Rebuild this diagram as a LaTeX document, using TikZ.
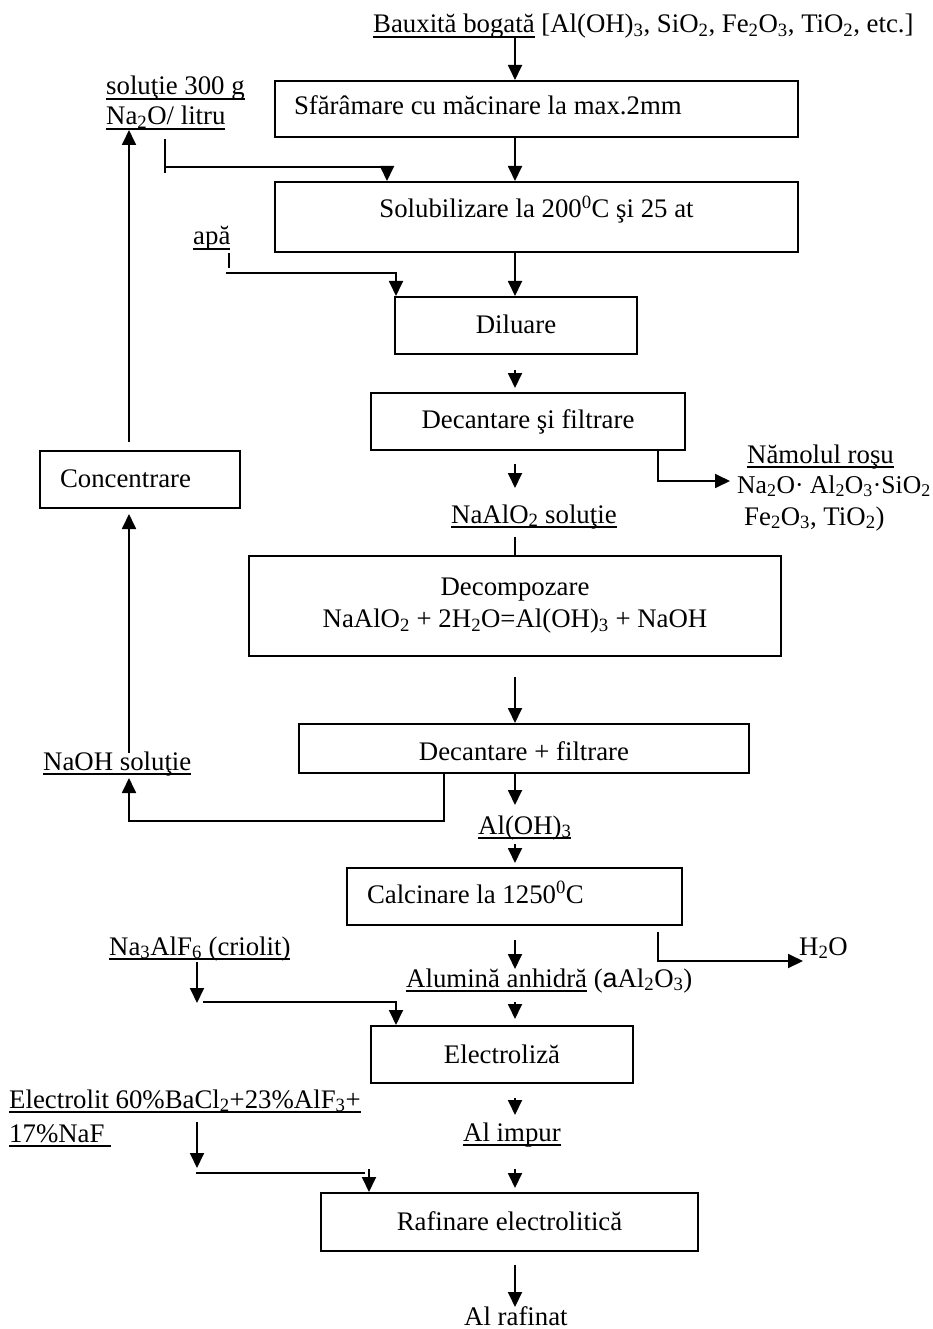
\documentclass[tikz,border=0pt]{standalone}
\usepackage{fontspec}
\setmainfont{Liberation Serif}
\newfontfamily\sansa{Liberation Sans}
\usetikzlibrary{arrows.meta}

% underline set just below the baseline, crossing the subscripts
\newsavebox\ulbox
\newcommand\ulx[1]{\sbox\ulbox{#1}\rlap{\rule[-4.6pt]{\wd\ulbox}{1.3pt}}\usebox\ulbox}
\newcommand\sub[1]{\textsubscript{#1}}

\tikzset{
  box/.style={draw, line width=2pt, inner sep=0pt, text depth=0pt},
  lbl/.style={inner sep=0pt, anchor=base west},
  ln/.style={line width=1.8pt},
  arr/.style={line width=1.8pt, -{Triangle[width=14pt,length=15pt]}},
}

\begin{document}
\begin{tikzpicture}[x=1pt, y=-1pt, font=\fontsize{26.8}{32}\selectfont]
\useasboundingbox (0,0) rectangle (932,1329);

% ---------- process boxes ----------
\node[box, minimum width=523pt, minimum height=56pt, text width=485pt, inner xsep=19pt, align=flush left, text height=12pt]
  (b1) at (536.5,109) {Sfărâmare cu măcinare la max.2mm};
\node[box, minimum width=523pt, minimum height=70pt, text height=2pt]
  (b2) at (536.5,217) {Solubilizare la 200\textsuperscript{0}C şi 25 at};
\node[box, minimum width=242pt, minimum height=57pt, text height=15pt]
  (b3) at (516,325.5) {Diluare};
\node[box, minimum width=314pt, minimum height=57pt, text height=13pt]
  (b4) at (528,421.5) {Decantare şi filtrare};
\node[box, minimum width=200pt, minimum height=57pt, text width=160pt, inner xsep=20pt, align=flush left, text height=15pt]
  (b5) at (140,479.5) {Concentrare};
\node[box, minimum width=532pt, minimum height=100pt, align=center, text depth=]
  (b6) at (515,606) {Decompozare\\NaAlO\sub{2} + 2H\sub{2}O=Al(OH)\sub{3} + NaOH};
\node[box, minimum width=450pt, minimum height=49pt, text height=23pt]
  (b7) at (524,748.5) {Decantare + filtrare};
\node[box, minimum width=335pt, minimum height=57pt, text width=295pt, inner xsep=20pt, align=flush left, text height=13pt]
  (b8) at (514.5,896.5) {Calcinare la 1250\textsuperscript{0}C};
\node[box, minimum width=262pt, minimum height=57pt, text height=17pt]
  (b9) at (502,1054.5) {Electroliză};
\node[box, minimum width=377pt, minimum height=58pt, text height=16pt]
  (b10) at (509.5,1222) {Rafinare electrolitică};

% ---------- stream labels ----------
\node[lbl] (feed) at (373,33) {\ulx{Bauxită bogată} [Al(OH)\sub{3}, SiO\sub{2}, Fe\sub{2}O\sub{3}, TiO\sub{2}, etc.]};
\node[lbl] (sola) at (106,95) {\ulx{soluţie 300 g}};
\node[lbl] (solb) at (106,125) {\ulx{Na\sub{2}O/ litru}};
\node[lbl] (apa) at (193,245) {\ulx{apă}};
\node[lbl] (nama) at (747,463) {\ulx{Nămolul roşu}};
\node[lbl, font=\fontsize{25.6}{32}\selectfont] (namb) at (737,493) {Na\sub{2}O· Al\sub{2}O\sub{3}·SiO\sub{2}};
\node[lbl] (namc) at (744,525) {Fe\sub{2}O\sub{3}, TiO\sub{2})};
\node[lbl] (alu) at (451,523) {\ulx{NaAlO\sub{2} soluţie}};
\node[lbl] (naoh) at (43,770) {\ulx{NaOH soluţie}};
\node[lbl] (aloh) at (478,834) {\ulx{Al(OH)\sub{3}}};
\node[lbl] (apor) at (799,955) {H\sub{2}O};
\node[lbl] (anh) at (406,987) {\ulx{Alumină anhidră} ({\sansa a}Al\sub{2}O\sub{3})};
\node[lbl] (cri) at (109,955) {\ulx{Na\sub{3}AlF\sub{6} (criolit)}};
\node[lbl] (ela) at (9,1108) {\ulx{Electrolit 60\%BaCl\sub{2}+23\%AlF\sub{3}+}};
\node[lbl] (elb) at (9,1142) {\ulx{17\%NaF\ }};
\node[lbl] (imp) at (463,1141) {\ulx{Al impur}};
\node[lbl] (raf) at (464,1325) {Al rafinat};

% ---------- reference columns ----------
\coordinate (mx) at (515,0);
\coordinate (lx) at (129,0);

% ---------- main line ----------
\coordinate (s0) at (515,37);
\draw[arr] (s0) -- (b1.north -| mx);
\draw[arr] (b1.south -| mx) -- (b2.north -| mx);
\draw[arr] (b2.south -| mx) -- (b3.north -| mx);
\coordinate (d0) at (515,370); \coordinate (d1) at (515,388);
\draw[arr] (d0) -- (d1);
\coordinate (d2) at (515,464); \coordinate (d3) at (515,488);
\draw[arr] (d2) -- (d3);
\coordinate (e0) at (515,537);
\draw[ln] (e0) -- (b6.north -| mx);
\coordinate (f0) at (515,677);
\draw[arr] (f0) -- (b7.north -| mx);
\coordinate (g1) at (515,805);
\draw[arr] (b7.south -| mx) -- (g1);
\coordinate (g2) at (515,844); \coordinate (g3) at (515,863);
\draw[arr] (g2) -- (g3);
\coordinate (g4) at (515,940); \coordinate (g5) at (515,969);
\draw[arr] (g4) -- (g5);
\coordinate (g6) at (515,1002); \coordinate (g7) at (515,1019);
\draw[arr] (g6) -- (g7);
\coordinate (g8) at (515,1098); \coordinate (g9) at (515,1115);
\draw[arr] (g8) -- (g9);
\coordinate (j0) at (515,1169); \coordinate (j1) at (515,1188);
\draw[arr] (j0) -- (j1);
\coordinate (j2) at (515,1265); \coordinate (j3) at (515,1307);
\draw[arr] (j2) -- (j3);

% ---------- soda liquor feed ----------
\coordinate (t0) at (165,139); \coordinate (t1) at (165,173);
\draw[ln] (t0) -- (t1);
\coordinate (t2) at (165,167); \coordinate (fx) at (387,0);
\draw[arr] (t2) -- (t2 -| fx) -- (b2.north -| fx);

% ---------- water feed ----------
\coordinate (w0) at (229,253); \coordinate (w1) at (229,268);
\draw[ln] (w0) -- (w1);
\coordinate (w2) at (226,273); \coordinate (wx) at (396,0);
\draw[arr] (w2) -- (w2 -| wx) -- (b3.north -| wx);

% ---------- red mud ----------
\coordinate (nx) at (658,0);
\coordinate (n1) at (658,481); \coordinate (n2) at (730,481);
\draw[arr] (b4.south -| nx) -- (n1) -- (n2);

% ---------- NaOH recycle ----------
\coordinate (hx) at (444,0);
\coordinate (h1) at (444,821); \coordinate (h2) at (129,821); \coordinate (h3) at (129,778);
\draw[arr] (b7.south -| hx) -- (h1) -- (h2) -- (h3);
\coordinate (u0) at (129,753); \coordinate (u1) at (129,514);
\draw[arr] (u0) -- (u1);
\coordinate (r0) at (129,442); \coordinate (r1) at (129,130);
\draw[arr] (r0) -- (r1);

% ---------- water from calcination ----------
\coordinate (k0) at (658,932); \coordinate (k1) at (658,961); \coordinate (k2) at (803,961);
\draw[arr] (k0) -- (k1) -- (k2);

% ---------- cryolite feed ----------
\coordinate (c0) at (197,962); \coordinate (c1) at (197,1003);
\draw[arr] (c0) -- (c1);
\coordinate (m0) at (203,1002); \coordinate (mx2) at (396,0);
\draw[arr] (m0) -- (m0 -| mx2) -- (b9.north -| mx2);

% ---------- refining electrolyte feed ----------
\coordinate (p0) at (197,1122); \coordinate (p1) at (197,1168);
\draw[arr] (p0) -- (p1);
\coordinate (p2) at (196,1173); \coordinate (p3) at (365,1173);
\draw[ln] (p2) -- (p3);
\coordinate (p4) at (369,1169);
\draw[arr] (p4) -- (b10.north -| p4);
\end{tikzpicture}
\end{document}
